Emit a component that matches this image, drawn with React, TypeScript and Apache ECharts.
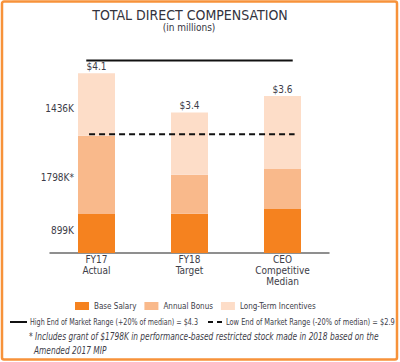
import React, { useEffect, useRef } from "react";
import * as echarts from "echarts";

const categories = ["FY17\nActual", "FY18\nTarget", "CEO\nCompetitive\nMedian"];
const baseSalary = [0.899, 0.9, 1.01];
const annualBonus = [1.798, 0.9, 0.92];
const longTermIncentives = [1.436, 1.43, 1.68];
const totalLabels = ["$4.1", "$3.4", "$3.6"];
const segmentLabels = ["899K", "1798K*", "1436K"];
const segmentLabelShift = [-3, 3, 4];
const highEnd = [[0.39, 4.43], [2.61, 4.43]];
const lowEnd = [[0.42, 2.73], [2.63, 2.73]];
const highName = "High End of Market Range (+20% of median) = $4.3";
const lowName = "Low End of Market Range (-20% of median) = $2.9";
const footnote = [
  "* Includes grant of $1798K in performance-based restricted stock made in 2018 based on the",
  "Amended 2017 MIP",
];

const FONT = "'DejaVu Sans Condensed', 'DejaVu Sans', sans-serif";
const C_BASE = "#F5821F";
const C_BONUS = "#F9B98B";
const C_LTI = "#FDDDC8";
const TXT = "#3d3d48";

function measure(text: string, font: string) {
  const c = document.createElement("canvas").getContext("2d")!;
  c.font = font;
  return c.measureText(text).width;
}

export default function App() {
  const ref = useRef<HTMLDivElement>(null);
  useEffect(() => {
    document.body.style.margin = "0";
    const chart = echarts.init(ref.current!, null, { renderer: "svg" });
    const legFont = `9px ${FONT}`;
    const footFont = `italic 10px ${FONT}`;
    const sHigh = 168 / measure(highName, legFont);
    const sLow = 169 / measure(lowName, legFont);
    const sFoot = 350 / measure(footnote[0], footFont);
    const mk = (vals: number[], idx: number) =>
      vals.map((v, i) =>
        i === 0
          ? {
              value: v,
              label: {
                show: true,
                position: "left",
                distance: 4,
                offset: [0, segmentLabelShift[idx]],
                formatter: segmentLabels[idx],
                color: TXT,
                fontSize: 10,
                fontFamily: FONT,
              },
            }
          : v
      );
    const legText = (x: number, text: string, sx: number) => ({
      type: "text",
      x,
      y: 322,
      scaleX: sx,
      style: { text, fill: TXT, fontSize: 9, fontFamily: FONT, verticalAlign: "middle" },
    });
    chart.setOption({
      animation: false,
      textStyle: { fontFamily: FONT },
      grid: { left: 50, right: 71, top: 53, bottom: 109 },
      xAxis: [
        {
          type: "category",
          data: categories,
          axisLine: { lineStyle: { color: "#6b6b6b", width: 1.5 } },
          axisTick: { show: false },
          axisLabel: { color: TXT, fontSize: 10, lineHeight: 11, margin: 1, fontFamily: FONT },
        },
        { type: "value", min: 0, max: 3, show: false },
      ],
      yAxis: { type: "value", min: 0, max: 4.6, show: false },
      legend: [
        {
          data: ["Base Salary", "Annual Bonus", "Long-Term Incentives"],
          left: 70,
          top: 297,
          itemWidth: 14,
          itemHeight: 8,
          itemGap: 8,
          icon: "rect",
          textStyle: { color: TXT, fontSize: 8, fontFamily: FONT },
        },
      ],
      graphic: [
        {
          type: "rect",
          shape: { x: 2, y: 1.5, width: 395, height: 358, r: 2 },
          style: { fill: "none", stroke: "#F7923A", lineWidth: 2.5 },
          silent: true,
        },
        {
          type: "text",
          x: 190,
          y: 8,
          style: {
            text: "TOTAL DIRECT COMPENSATION",
            textAlign: "center",
            fill: "#33333d",
            fontSize: 14,
            fontFamily: FONT,
          },
        },
        {
          type: "text",
          x: 189,
          y: 22,
          style: {
            text: "(in millions)",
            textAlign: "center",
            fill: "#33333d",
            fontSize: 10,
            fontFamily: FONT,
          },
        },
        {
          type: "line",
          shape: { x1: 10, y1: 322, x2: 27, y2: 322 },
          style: { stroke: "#111", lineWidth: 2 },
        },
        legText(30, highName, sHigh),
        {
          type: "line",
          shape: { x1: 208, y1: 322, x2: 222, y2: 322 },
          style: { stroke: "#111", lineWidth: 2, lineDash: [5, 4] },
        },
        legText(226, lowName, sLow),
        {
          type: "text",
          x: 29,
          y: 336,
          scaleX: sFoot,
          style: {
            text: footnote[0],
            fill: TXT,
            fontSize: 10,
            fontStyle: "italic",
            fontFamily: FONT,
            verticalAlign: "middle",
          },
        },
        {
          type: "text",
          x: 34,
          y: 350,
          scaleX: sFoot,
          style: {
            text: footnote[1],
            fill: TXT,
            fontSize: 10,
            fontStyle: "italic",
            fontFamily: FONT,
            verticalAlign: "middle",
          },
        },
      ],
      series: [
        {
          name: "Base Salary",
          type: "bar",
          stack: "tdc",
          barWidth: 37,
          itemStyle: { color: C_BASE },
          data: mk(baseSalary, 0),
        },
        {
          name: "Annual Bonus",
          type: "bar",
          stack: "tdc",
          barWidth: 37,
          itemStyle: { color: C_BONUS },
          data: mk(annualBonus, 1),
        },
        {
          name: "Long-Term Incentives",
          type: "bar",
          stack: "tdc",
          barWidth: 37,
          itemStyle: { color: C_LTI },
          data: mk(longTermIncentives, 2),
        },
        {
          name: "total",
          type: "bar",
          stack: "tdc",
          barWidth: 37,
          itemStyle: { color: "transparent" },
          data: totalLabels.map(() => 0),
          label: {
            show: true,
            position: "top",
            distance: 2,
            color: TXT,
            fontSize: 10,
            fontFamily: FONT,
            formatter: (p: any) => totalLabels[p.dataIndex],
          },
        },
        {
          name: highName,
          type: "line",
          xAxisIndex: 1,
          data: highEnd,
          symbol: "none",
          lineStyle: { color: "#111", width: 2, type: "solid" },
        },
        {
          name: lowName,
          type: "line",
          xAxisIndex: 1,
          data: lowEnd,
          symbol: "none",
          lineStyle: { color: "#111", width: 2, type: [6, 4] },
        },
      ],
    });
    return () => chart.dispose();
  }, []);
  return <div ref={ref} style={{ width: 400, height: 362, background: "#fff" }} />;
}
